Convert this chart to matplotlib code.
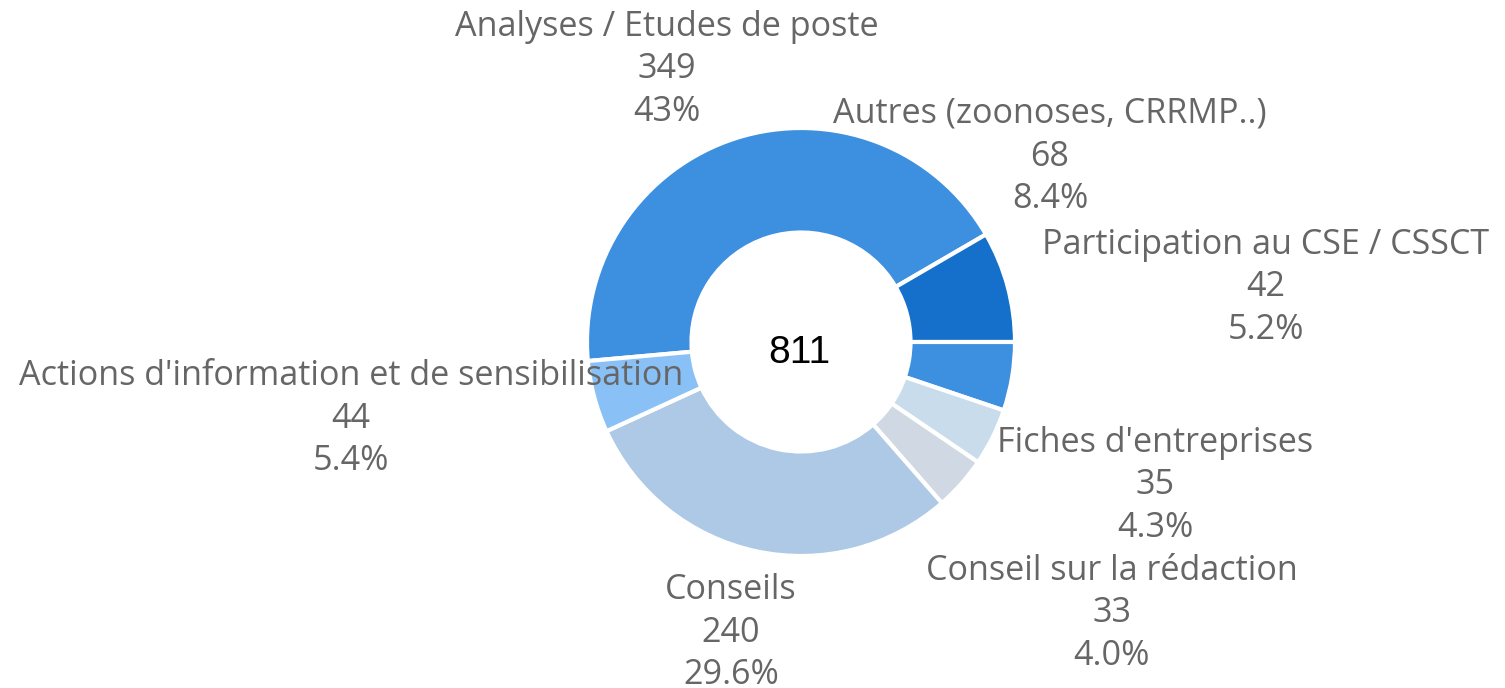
import matplotlib
matplotlib.use("Agg")
import matplotlib.pyplot as plt

# ====== DATA ======
categories = [
    "Analyses / Etudes de poste",
    "Autres (zoonoses, CRRMP..)",
    "Participation au CSE / CSSCT",
    "Fiches d'entreprises",
    "Conseil sur la rédaction",
    "Conseils",
    "Actions d'information et de sensibilisation",
]
values = [349, 68, 42, 35, 33, 240, 44]
pct_labels = ["43%", "8.4%", "5.2%", "4.3%", "4.0%", "29.6%", "5.4%"]
total = sum(values)

colors = ["#3d8fe0", "#1570cc", "#3d8fe0", "#c9dcec", "#d0d9e3", "#adc9e5", "#89c1f7"]

# label anchor (centre x, baseline of first line) in pixels from top-left
label_pos = [
    (667, 36),
    (1050, 123),
    (1266, 254),
    (1155, 452),
    (1112, 580),
    (731, 599),
    (351, 385),
]
line_gap = 42.5

W, H = 1505, 688
fig = plt.figure(figsize=(W / 100, H / 100), dpi=100)
ax = fig.add_axes([0, 0, 1, 1])

cx, cy, r_out, r_in = 801, H - 342, 214, 109.5
start = 360 * (values[0] + values[1]) / total

ax.pie(values, colors=colors, center=(cx, cy), radius=r_out,
       startangle=start, counterclock=False,
       wedgeprops=dict(width=r_out - r_in, edgecolor="white", linewidth=3))

# pie() resets the limits, so set them afterwards
ax.set_xlim(0, W)
ax.set_ylim(0, H)
ax.set_aspect("equal")
ax.axis("off")

font = "Open Sans"
for name, v, p, (x, y) in zip(categories, values, pct_labels, label_pos):
    for k, s in enumerate([name, str(v), p]):
        ax.text(x, H - (y + k * line_gap), s, ha="center", va="baseline",
                fontsize=24.6, color="#666666", family=font, zorder=5)

ax.text(cx - 2, H - 363, str(total), ha="center", va="baseline",
        fontsize=28, color="black", family="Liberation Sans", zorder=5)

fig.savefig("out.png", dpi=100)
